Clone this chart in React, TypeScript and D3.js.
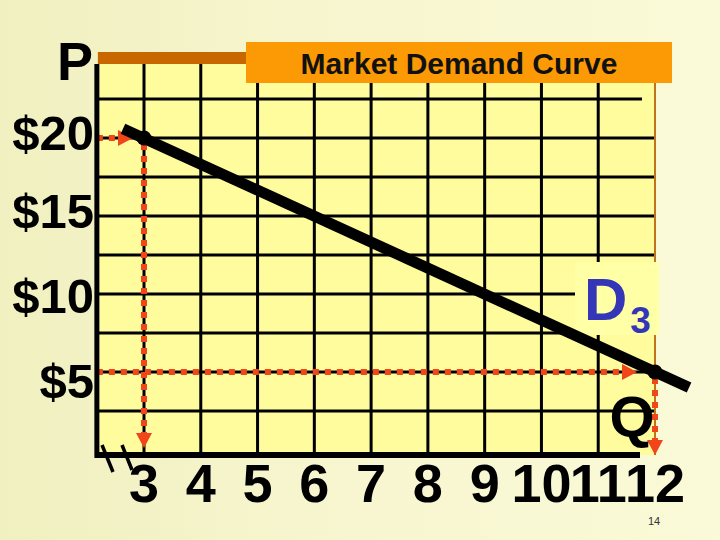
import React from 'react';
import * as d3 from 'd3';

// Chart data
const quantityTicks = [3, 4, 5, 6, 7, 8, 9, 10, 11, 12];
const priceTicks = [20, 15, 10, 5];
const priceGrid = [2.5, 5, 7.5, 10, 12.5, 15, 17.5, 20, 22.5];
const demandPoints = [
  { q: 3, p: 20 },
  { q: 12, p: 5 },
];
// the drawn demand line runs a little past both points
const demandLine = [
  { q: 2.63, p: 20.6 },
  { q: 12.6, p: 4.0 },
];
const chartTitle = 'Market Demand Curve';
const curveLabel = 'D';
const curveSub = '3';
const axisP = 'P';
const axisQ = 'Q';
const slideNo = '14';

const W = 720;
const H = 540;
const FONT = '"Liberation Sans", Arial, sans-serif';
const RED = '#f0461a';

// label nudges (layout only)
const priceLabelDy: Record<number, number> = { 20: 12, 15: 12, 10: 19, 5: 26 };

const App = () => {
  const x = d3.scaleLinear().domain([3, 12]).range([144, 655]);
  const y = d3.scaleLinear().domain([0, 25]).range([450, 60]);

  const plotLeft = x(2.17);
  const plotRight = x(12);
  const plotTop = 64;
  const plotBottom = 455;

  const line = d3
    .line<{ q: number; p: number }>()
    .x((d) => x(d.q))
    .y((d) => y(d.p));

  const dash = { stroke: RED, strokeWidth: 6, strokeDasharray: '6 6', fill: 'none' };

  const arrowRight = (tipX: number, cy: number) =>
    `M${tipX},${cy} L${tipX - 15},${cy - 8} L${tipX - 15},${cy + 8} Z`;
  const arrowDown = (cx: number, tipY: number) =>
    `M${cx},${tipY} L${cx - 8},${tipY - 15} L${cx + 8},${tipY - 15} Z`;

  const [top, bottom] = demandPoints;

  return (
    <svg
      width={W}
      height={H}
      style={{ position: 'fixed', left: 0, top: 0, display: 'block' }}
      fontFamily={FONT}
    >
      <defs>
        <linearGradient id="bg" x1="0" x2="1" y1="0" y2="0">
          <stop offset="0" stopColor="#f1f0c0" />
          <stop offset="0.5" stopColor="#f7f6d0" />
          <stop offset="1" stopColor="#fbfad8" />
        </linearGradient>
      </defs>
      <rect width={W} height={H} fill="url(#bg)" />

      {/* plot area */}
      <rect
        x={plotLeft}
        y={plotTop}
        width={plotRight - plotLeft}
        height={plotBottom - plotTop}
        fill="#fefc9c"
      />

      {/* grid */}
      {quantityTicks.slice(0, -1).map((q) => (
        <line
          key={`v${q}`}
          x1={x(q)}
          x2={x(q)}
          y1={plotTop}
          y2={plotBottom}
          stroke="#000"
          strokeWidth={3}
        />
      ))}
      {priceGrid.map((p) => (
        <line
          key={`h${p}`}
          x1={plotLeft}
          x2={p === 22.5 ? plotRight - 13 : plotRight}
          y1={y(p)}
          y2={y(p)}
          stroke="#000"
          strokeWidth={3}
        />
      ))}
      <line
        x1={plotRight}
        x2={plotRight}
        y1={83}
        y2={plotBottom}
        stroke="#c0741a"
        strokeWidth={2}
      />

      {/* title bar */}
      <rect x={plotLeft + 1} y={52} width={plotRight - plotLeft} height={12} fill="#c86600" />
      <rect x={246} y={42} width={426} height={41} fill="#fc9a06" />
      <text
        x={459}
        y={74}
        textAnchor="middle"
        fontSize={30}
        fontWeight="bold"
        fill="#111"
      >
        {chartTitle}
      </text>

      {/* curve label box */}
      <rect x={575} y={262} width={84} height={73} fill="#ffffa6" />

      {/* dashed guides */}
      <line x1={plotLeft} x2={x(top.q) - 24} y1={y(top.p)} y2={y(top.p)} {...dash} />
      <path d={arrowRight(x(top.q) - 11, y(top.p))} fill={RED} />
      <line x1={x(top.q)} x2={x(top.q)} y1={y(top.p) + 6} y2={plotBottom - 20} {...dash} />
      <path d={arrowDown(x(top.q), plotBottom - 7)} fill={RED} />

      <line x1={plotLeft} x2={x(bottom.q) - 30} y1={y(bottom.p)} y2={y(bottom.p)} {...dash} />
      <path d={arrowRight(x(bottom.q) - 18, y(bottom.p))} fill={RED} />
      <line x1={x(bottom.q)} x2={x(bottom.q)} y1={y(bottom.p) + 6} y2={plotBottom - 14} {...dash} />
      <path d={arrowDown(x(bottom.q), plotBottom)} fill={RED} />

      {/* demand curve */}
      <path d={line(demandLine) ?? ''} stroke="#000" strokeWidth={11} fill="none" strokeLinecap="butt" />
      {demandPoints.map((d) => (
        <circle key={d.q} cx={x(d.q)} cy={y(d.p)} r={7.5} fill="#000" />
      ))}

      {/* axes */}
      <line x1={plotLeft} x2={plotLeft} y1={plotTop} y2={plotBottom + 3} stroke="#000" strokeWidth={5} />
      <line x1={plotLeft} x2={plotRight - 15} y1={plotBottom} y2={plotBottom} stroke="#000" strokeWidth={6} />
      {/* axis break */}
      <line x1={102} x2={113} y1={445} y2={472} stroke="#000" strokeWidth={3.5} />
      <line x1={122} x2={132} y1={445} y2={470} stroke="#000" strokeWidth={3.5} />

      {/* tick labels */}
      {quantityTicks.map((q) => (
        <text
          key={`q${q}`}
          x={x(q)}
          y={502}
          textAnchor="middle"
          fontSize={54}
          fontWeight="bold"
          fill="#000"
        >
          {q}
        </text>
      ))}
      {priceTicks.map((p) => (
        <text
          key={`p${p}`}
          x={94}
          y={y(p) + priceLabelDy[p]}
          textAnchor="end"
          fontSize={49}
          fontWeight="bold"
          fill="#000"
        >
          {`$${p}`}
        </text>
      ))}

      {/* axis titles and curve label */}
      <text x={75} y={80} textAnchor="middle" fontSize={54} fontWeight="bold" fill="#000">
        {axisP}
      </text>
      <text x={632} y={437} textAnchor="middle" fontSize={58} fontWeight="bold" fill="#000">
        {axisQ}
      </text>
      <text x={584} y={320} fontSize={60} fontWeight="bold" fill="#3535b8">
        {curveLabel}
        <tspan fontSize={37} dx={3} dy={13}>
          {curveSub}
        </tspan>
      </text>
      <text x={654} y={525} textAnchor="middle" fontSize={11} fill="#333">
        {slideNo}
      </text>
    </svg>
  );
};

export default App;
